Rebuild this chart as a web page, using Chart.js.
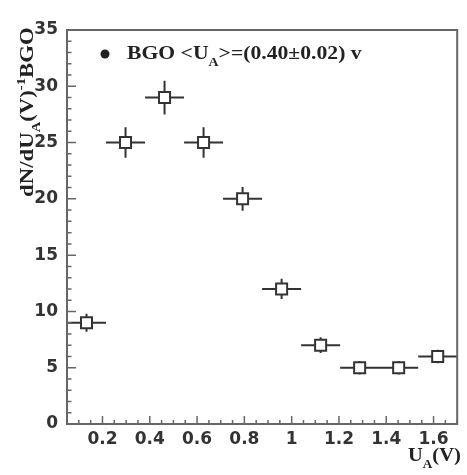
<!DOCTYPE html>
<html>
<head>
<meta charset="utf-8">
<script src="https://cdn.jsdelivr.net/npm/chart.js@4/dist/chart.umd.min.js"></script>
<style>
  html, body { margin: 0; padding: 0; background: #fff; }
  #wrap { width: 467px; height: 475px; }
</style>
</head>
<body>
<div id="wrap"><canvas id="c" width="467" height="475"></canvas></div>
<script>
// Histogram of U_A for BGO: bin centres, half bin widths, counts and their errors
const binCenters   = [0.1325, 0.2975, 0.4625, 0.6275, 0.7925, 0.9575, 1.1225, 1.2875, 1.4525, 1.6175];
const binHalfWidth = [0.0825, 0.0825, 0.0825, 0.0825, 0.0825, 0.0825, 0.0825, 0.0825, 0.0825, 0.0825];
const counts       = [9, 25, 29, 25, 20, 12, 7, 5, 5, 6];
const countErr     = [0.8, 1.35, 1.5, 1.35, 1.05, 0.9, 0.7, 0.6, 0.6, 0.6];

// Axis ranges and tick labels
const xRange = [0.05, 1.7];
const yRange = [0, 35];
const xTicks = [0.2, 0.4, 0.6, 0.8, 1.0, 1.2, 1.4, 1.6];
const yTicks = [0, 5, 10, 15, 20, 25, 30, 35];
const xMinorStep = 0.05;
const yMinorStep = 1;

const INK = '#333';
const FRAME = '#666';
const SERIF = '"Liberation Serif", "Times New Roman", serif';

// Draw a run of text with optional subscript / superscript pieces
function drawRich(ctx, parts, size) {
  let cx = 0;
  for (const p of parts) {
    const small = p.sub || p.sup;
    const fs = small ? size * 0.64 : size;
    ctx.font = 'bold ' + fs + 'px ' + SERIF;
    const dy = p.sub ? size * 0.36 : (p.sup ? -size * 0.42 : 0);
    ctx.fillText(p.t, cx, dy);
    cx += ctx.measureText(p.t).width;
  }
}

// Frame with inward major/minor ticks on the left and bottom axes
const framePlugin = {
  id: 'frame',
  afterDatasetsDraw(chart) {
    const { ctx, chartArea: a, scales: { x, y } } = chart;
    ctx.save();
    ctx.strokeStyle = FRAME;
    ctx.lineWidth = 2;
    ctx.strokeRect(a.left, a.top, a.right - a.left, a.bottom - a.top);
    ctx.lineWidth = 1.5;
    ctx.beginPath();
    const nx = Math.round((xRange[1] - xRange[0]) / xMinorStep);
    for (let i = 0; i <= nx; i++) {
      const v = xRange[0] + i * xMinorStep;
      const major = xTicks.some(t => Math.abs(t - v) < 1e-6);
      const px = x.getPixelForValue(v);
      ctx.moveTo(px, a.bottom);
      ctx.lineTo(px, a.bottom - (major ? 8 : 4));
    }
    const ny = Math.round((yRange[1] - yRange[0]) / yMinorStep);
    for (let i = 0; i <= ny; i++) {
      const v = yRange[0] + i * yMinorStep;
      const major = yTicks.includes(v);
      const py = y.getPixelForValue(v);
      ctx.moveTo(a.left, py);
      ctx.lineTo(a.left + (major ? 9 : 4.5), py);
    }
    ctx.stroke();
    ctx.restore();
  }
};

// Horizontal (bin width) and vertical (count error) bars behind the markers
const errorBarPlugin = {
  id: 'errorBars',
  beforeDatasetsDraw(chart) {
    const { ctx, scales: { x, y } } = chart;
    ctx.save();
    ctx.strokeStyle = INK;
    ctx.lineWidth = 2;
    ctx.beginPath();
    binCenters.forEach((c, i) => {
      const px = x.getPixelForValue(c);
      const py = y.getPixelForValue(counts[i]);
      ctx.moveTo(x.getPixelForValue(c - binHalfWidth[i]), py);
      ctx.lineTo(x.getPixelForValue(c + binHalfWidth[i]), py);
      ctx.moveTo(px, y.getPixelForValue(counts[i] - countErr[i]));
      ctx.lineTo(px, y.getPixelForValue(counts[i] + countErr[i]));
    });
    ctx.stroke();
    ctx.restore();
  }
};

// Axis titles and the legend entry
const labelsPlugin = {
  id: 'labels',
  afterDraw(chart) {
    const { ctx } = chart;
    ctx.save();
    ctx.fillStyle = '#222';
    ctx.textBaseline = 'alphabetic';
    ctx.textAlign = 'left';

    // legend marker and text
    ctx.beginPath();
    ctx.arc(105, 54, 4.5, 0, Math.PI * 2);
    ctx.fill();
    ctx.save();
    ctx.translate(127, 59);
    ctx.scale(1.14, 1);
    drawRich(ctx, [
      { t: 'BGO <U' }, { t: 'A', sub: true }, { t: '>=(0.40\u00b10.02) v' }
    ], 19);
    ctx.restore();

    // x-axis title
    ctx.save();
    ctx.translate(408, 461);
    ctx.scale(1.08, 1);
    drawRich(ctx, [{ t: 'U' }, { t: 'A', sub: true }, { t: '(V)' }], 19);
    ctx.restore();

    // y-axis title
    ctx.save();
    ctx.translate(33, 197);
    ctx.rotate(-Math.PI / 2);
    ctx.scale(1.2, 1);
    drawRich(ctx, [
      { t: 'dN/dU' }, { t: 'A', sub: true }, { t: '(V)' }, { t: '-1', sup: true }, { t: 'BGO' }
    ], 19);
    ctx.restore();

    ctx.restore();
  }
};

const tickFont = { family: '"DejaVu Sans", sans-serif', size: 17, weight: 'bold' };

new Chart(document.getElementById('c'), {
  type: 'scatter',
  data: {
    datasets: [{
      label: 'BGO',
      data: binCenters.map((c, i) => ({ x: c, y: counts[i] })),
      pointStyle: 'rect',
      pointRadius: 7.8,
      pointHoverRadius: 7.8,
      pointBackgroundColor: '#fff',
      pointBorderColor: INK,
      pointBorderWidth: 2,
      showLine: false
    }]
  },
  options: {
    responsive: false,
    animation: false,
    devicePixelRatio: 1,
    layout: { padding: { left: 0, right: 4, top: 30, bottom: 0 } },
    plugins: { legend: { display: false }, tooltip: { enabled: false } },
    events: [],
    scales: {
      x: {
        type: 'linear',
        min: xRange[0],
        max: xRange[1],
        afterBuildTicks(s) { s.ticks = xTicks.map(v => ({ value: v })); },
        afterFit(s) { s.height = 51; },
        border: { display: false },
        grid: { display: true, drawOnChartArea: false, drawTicks: false, color: 'rgba(0,0,0,0)' },
        ticks: {
          color: INK,
          font: tickFont,
          padding: 5,
          maxRotation: 0,
          autoSkip: false,
          callback: v => String(Math.round(v * 10) / 10)
        }
      },
      y: {
        type: 'linear',
        min: yRange[0],
        max: yRange[1],
        afterBuildTicks(s) { s.ticks = yTicks.map(v => ({ value: v })); },
        afterFit(s) { s.width = 67; },
        border: { display: false },
        grid: { display: true, drawOnChartArea: false, drawTicks: false, color: 'rgba(0,0,0,0)' },
        ticks: {
          color: INK,
          font: tickFont,
          padding: 9,
          autoSkip: false,
          callback: v => String(v)
        }
      }
    }
  },
  plugins: [errorBarPlugin, framePlugin, labelsPlugin]
});
</script>
</body>
</html>
